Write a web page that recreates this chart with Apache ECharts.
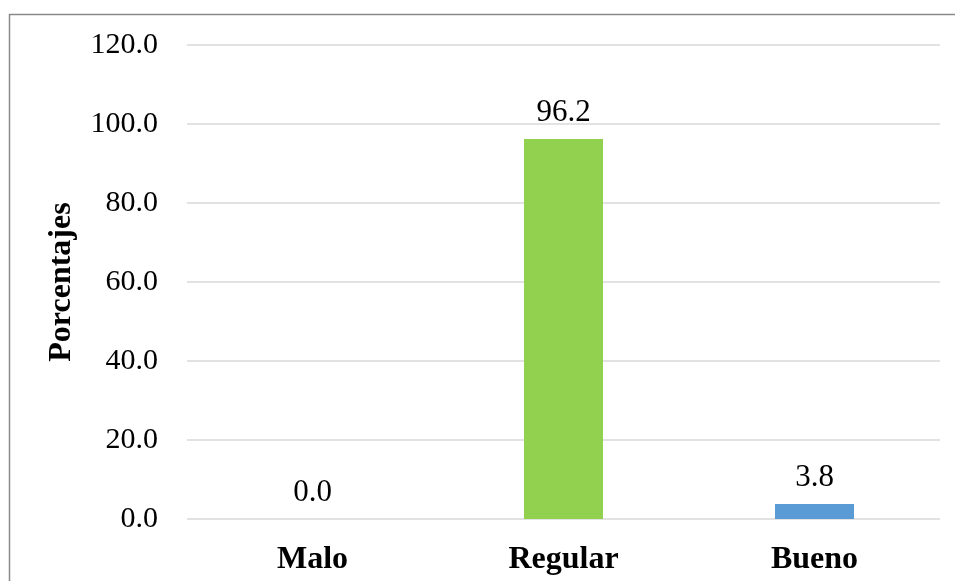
<!DOCTYPE html>
<html>
<head>
<meta charset="utf-8">
<script src="https://cdn.jsdelivr.net/npm/echarts@6/dist/echarts.min.js"></script>
<style>
  html, body { margin: 0; padding: 0; background: #ffffff; }
  #chart { width: 955px; height: 581px; }
</style>
</head>
<body>
<div id="chart"></div>
<script>
// Categories and percentages
const categories = ['Malo', 'Regular', 'Bueno'];
const percentages = [0.0, 96.2, 3.8];
const barColors = ['#92D050', '#92D050', '#5B9BD5'];
const yAxisTitle = 'Porcentajes';

const FONT = '"Liberation Serif", "Times New Roman", serif';

const chart = echarts.init(document.getElementById('chart'), null, { renderer: 'canvas' });

chart.setOption({
  animation: false,
  backgroundColor: '#ffffff',
  graphic: [
    {
      // frame: top and left edges of the chart area
      type: 'polyline',
      shape: { points: [[9.5, 600], [9.5, 14.5], [960, 14.5]] },
      style: { stroke: '#8a8a8a', lineWidth: 1.5, fill: null },
      silent: true
    }
  ],
  grid: { left: 187, right: 15, top: 45, bottom: 62 },
  xAxis: {
    type: 'category',
    data: categories,
    axisLine: { show: false },
    axisTick: { show: false },
    axisLabel: {
      margin: 25,
      fontFamily: FONT,
      fontWeight: 'bold',
      fontSize: 32,
      color: '#000000'
    }
  },
  yAxis: {
    type: 'value',
    min: 0,
    max: 120,
    interval: 20,
    name: yAxisTitle,
    nameLocation: 'middle',
    nameGap: 109,
    nameTextStyle: {
      fontFamily: FONT,
      fontWeight: 'bold',
      fontSize: 32,
      color: '#000000'
    },
    axisLine: { show: false },
    axisTick: { show: false },
    splitLine: { lineStyle: { color: '#d9d9d9', width: 1.5 } },
    axisLabel: {
      margin: 29,
      fontFamily: FONT,
      fontSize: 30,
      color: '#000000',
      formatter: v => v.toFixed(1)
    }
  },
  series: [{
    type: 'bar',
    barWidth: 79,
    data: percentages.map((v, i) => ({ value: v, itemStyle: { color: barColors[i] } })),
    label: {
      show: true,
      position: 'top',
      distance: 11,
      fontFamily: FONT,
      fontSize: 31,
      color: '#000000',
      formatter: p => p.value.toFixed(1)
    }
  }]
});
</script>
</body>
</html>
